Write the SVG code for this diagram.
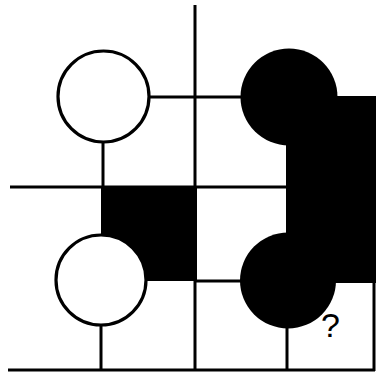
<svg xmlns="http://www.w3.org/2000/svg" width="376" height="375" viewBox="0 0 376 375">
<style>
.ln{stroke:#000;stroke-width:3;fill:none;stroke-linecap:butt}
.wc{fill:#fff;stroke:#000;stroke-width:3.2}
.blk{fill:#000;stroke:none}
.q{font-family:"Liberation Sans",Arial,sans-serif;font-size:34px;fill:#000}
</style>
<rect width="376" height="375" fill="#fff"/>
<g id="connectors">
<line class="ln" x1="10" y1="187" x2="376" y2="187"/>
<line class="ln" x1="195" y1="5" x2="195" y2="371"/>
<line class="ln" x1="8" y1="370" x2="375" y2="370"/>
<line class="ln" x1="374" y1="282" x2="374" y2="371"/>
<line class="ln" x1="149" y1="97" x2="242" y2="97"/>
<line class="ln" x1="103" y1="142" x2="103" y2="187"/>
<line class="ln" x1="101" y1="325" x2="101" y2="370"/>
<line class="ln" x1="195" y1="281" x2="241" y2="281"/>
<line class="ln" x1="287" y1="326" x2="287" y2="370"/>
</g>
<g id="black-square">
<rect class="blk" x="101" y="187" width="96" height="94"/>
</g>
<g id="black-shape">
<circle class="blk" cx="289" cy="97" r="48.5"/>
<circle class="blk" cx="288" cy="280.5" r="48"/>
<rect class="blk" x="286" y="96" width="90" height="187"/>
</g>
<g id="circle-top-left">
<circle class="wc" cx="103.5" cy="96.5" r="45.5"/>
</g>
<g id="circle-bottom-left">
<circle class="wc" cx="101" cy="280" r="45"/>
</g>
<g id="question">
<text class="q" x="330.5" y="337" text-anchor="middle">?</text>
</g>
</svg>
